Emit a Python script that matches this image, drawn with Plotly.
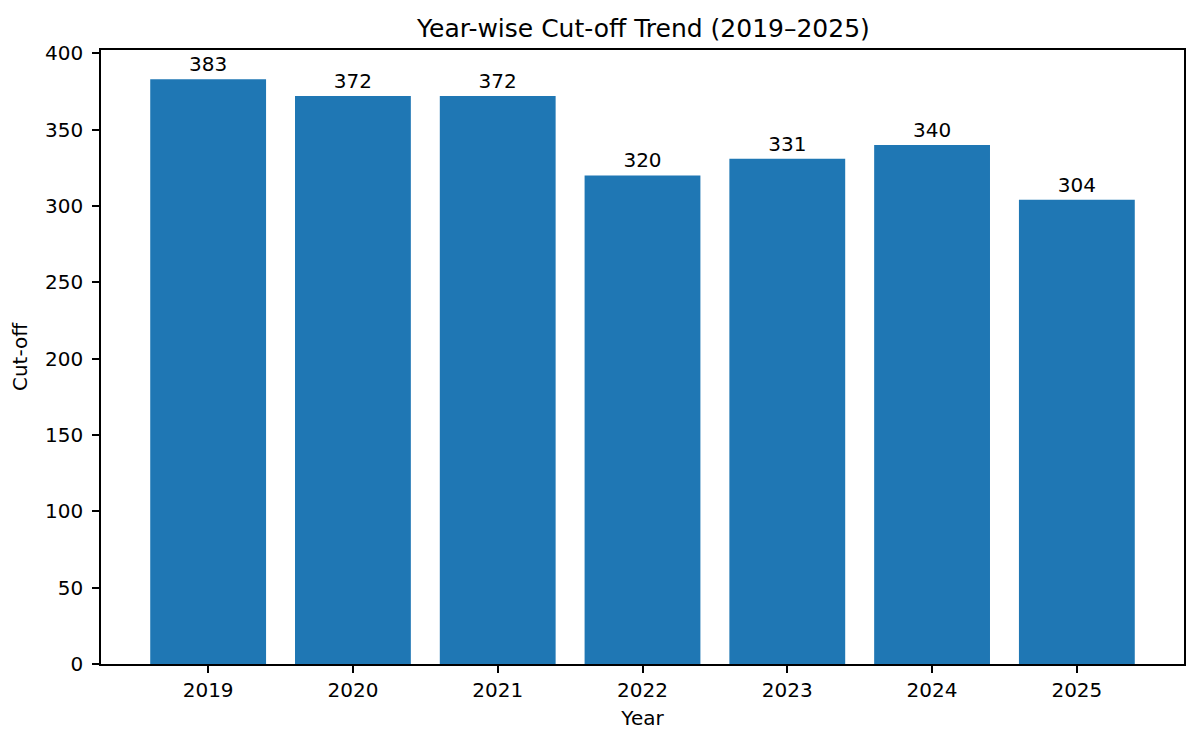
import plotly.graph_objs as go

# data
years = ['2019', '2020', '2021', '2022', '2023', '2024', '2025']
cutoff = [383, 372, 372, 320, 331, 340, 304]

font_family = 'DejaVu Sans'

trace = go.Bar(x=years, y=cutoff, marker=dict(color='#1f77b4', line=dict(width=0)),
               text=[str(v) for v in cutoff], textposition='outside',
               textfont=dict(family=font_family, size=20, color='black'),
               cliponaxis=False, width=0.8)

axis_style = dict(showline=True, linecolor='black', linewidth=1.6, mirror=True,
                  ticks='outside', ticklen=7, tickwidth=1.6, tickcolor='black',
                  showgrid=False, zeroline=False,
                  tickfont=dict(family=font_family, size=20, color='black'))

# page has an 8px body margin, so figure is a bit smaller and margins shifted
layout = go.Layout(
    title=dict(text='Year-wise Cut-off Trend (2019–2025)', x=0.5367, xanchor='center',
               y=1 - 20 / 728, yanchor='middle',
               font=dict(family=font_family, size=25, color='black')),
    width=1184, height=728,
    margin=dict(l=93, r=6, t=42, b=72),
    plot_bgcolor='white', paper_bgcolor='white',
    xaxis=dict(axis_style, type='category', range=[-0.74, 6.74], ticklabelstandoff=0,
               title=dict(text='Year', font=dict(family=font_family, size=20, color='black'), standoff=10)),
    yaxis=dict(axis_style, range=[0, 402.15], tickvals=[0, 50, 100, 150, 200, 250, 300, 350, 400],
               ticklabelstandoff=5,
               title=dict(text='Cut-off', font=dict(family=font_family, size=20, color='black'), standoff=12)),
    showlegend=False,
)

fig = go.Figure(data=[trace], layout=layout)
fig.write_html('out.html')
